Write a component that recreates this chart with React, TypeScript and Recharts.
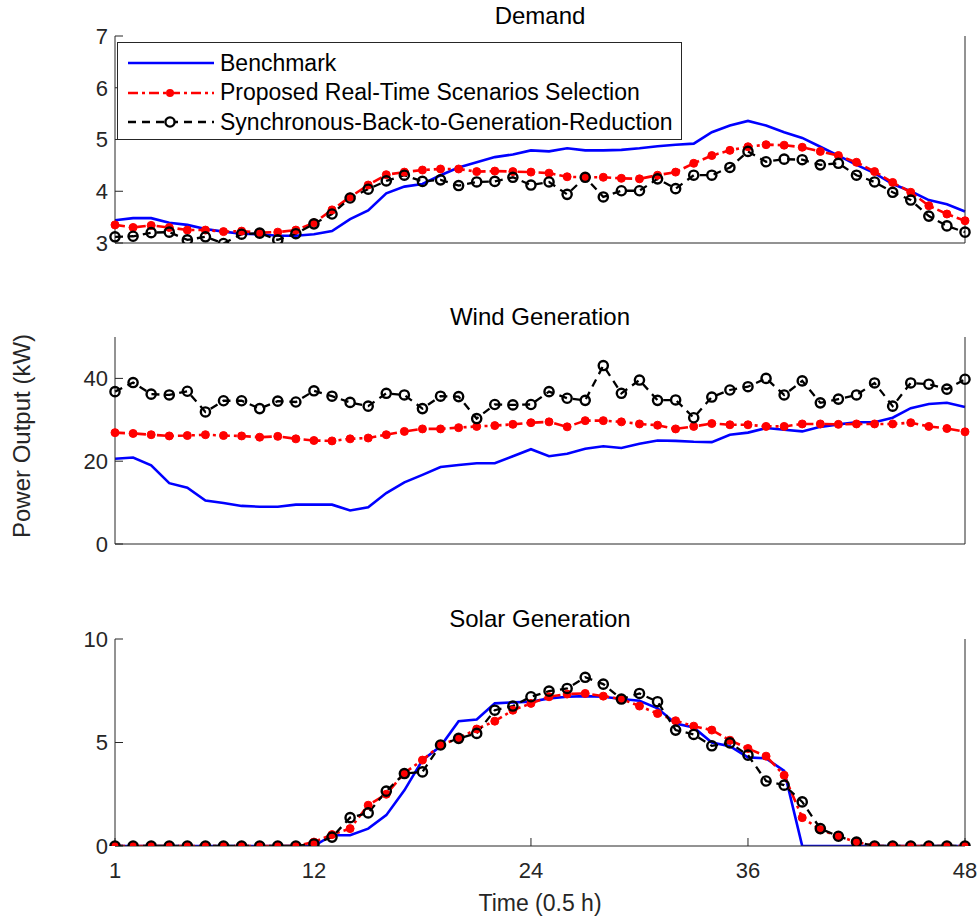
import React from 'react'
import { LineChart, Line, XAxis, YAxis } from 'recharts'

const time = [1, 2, 3, 4, 5, 6, 7, 8, 9, 10, 11, 12, 13, 14, 15, 16, 17, 18, 19, 20, 21, 22, 23, 24, 25, 26, 27, 28, 29, 30, 31, 32, 33, 34, 35, 36, 37, 38, 39, 40, 41, 42, 43, 44, 45, 46, 47, 48]
const xTicks = [1, 12, 24, 36, 48]

const demandBenchmark = [3.44, 3.48, 3.48, 3.39, 3.35, 3.27, 3.22, 3.18, 3.17, 3.14, 3.14, 3.17, 3.23, 3.46, 3.63, 3.96, 4.09, 4.14, 4.31, 4.46, 4.56, 4.66, 4.71, 4.79, 4.77, 4.83, 4.79, 4.79, 4.8, 4.83, 4.87, 4.9, 4.92, 5.14, 5.27, 5.36, 5.27, 5.14, 5.03, 4.86, 4.69, 4.51, 4.35, 4.14, 4.0, 3.83, 3.75, 3.61]
const demandProposed = [3.35, 3.3, 3.34, 3.3, 3.25, 3.25, 3.22, 3.23, 3.2, 3.21, 3.25, 3.39, 3.64, 3.89, 4.12, 4.32, 4.37, 4.41, 4.43, 4.43, 4.38, 4.39, 4.38, 4.37, 4.35, 4.28, 4.27, 4.27, 4.25, 4.24, 4.31, 4.37, 4.54, 4.69, 4.79, 4.86, 4.9, 4.89, 4.85, 4.77, 4.69, 4.56, 4.38, 4.17, 3.98, 3.72, 3.56, 3.43]
const demandSbgr = [3.12, 3.13, 3.2, 3.21, 3.06, 3.12, 2.99, 3.17, 3.19, 3.06, 3.18, 3.37, 3.56, 3.87, 4.04, 4.2, 4.31, 4.19, 4.22, 4.11, 4.18, 4.19, 4.27, 4.12, 4.18, 3.94, 4.27, 3.89, 4.01, 4.01, 4.24, 4.05, 4.31, 4.31, 4.46, 4.77, 4.57, 4.62, 4.61, 4.51, 4.54, 4.31, 4.18, 3.98, 3.83, 3.52, 3.33, 3.21]

const windBenchmark = [20.6, 20.9, 19.0, 14.7, 13.6, 10.5, 9.9, 9.2, 9.0, 9.0, 9.5, 9.5, 9.5, 8.1, 8.9, 12.3, 14.9, 16.7, 18.6, 19.1, 19.5, 19.5, 21.2, 22.9, 21.2, 21.8, 23.0, 23.6, 23.2, 24.2, 25.0, 24.9, 24.7, 24.6, 26.4, 26.9, 28.0, 27.6, 27.2, 28.3, 28.9, 29.4, 29.4, 30.5, 32.8, 33.8, 34.1, 33.1]
const windProposed = [26.9, 26.7, 26.4, 26.1, 26.2, 26.4, 26.2, 26.1, 25.8, 26.0, 25.4, 25.0, 24.9, 25.4, 25.6, 26.4, 27.2, 27.8, 27.8, 28.1, 28.4, 28.6, 28.9, 29.3, 29.5, 28.3, 29.8, 29.8, 29.5, 29.0, 28.7, 27.8, 28.4, 29.1, 28.8, 28.8, 28.4, 28.4, 29.0, 29.0, 28.9, 29.0, 29.0, 29.0, 29.3, 28.4, 27.9, 27.1]
const windSbgr = [36.8, 39.0, 36.2, 36.0, 36.9, 31.9, 34.6, 34.6, 32.7, 34.5, 34.3, 37.0, 35.7, 34.2, 33.3, 36.4, 36.0, 32.7, 35.7, 35.6, 30.3, 33.7, 33.6, 33.7, 36.8, 35.2, 34.7, 43.1, 36.4, 39.6, 34.7, 34.8, 30.5, 35.5, 37.2, 38.0, 40.0, 36.0, 39.4, 34.1, 35.0, 36.0, 38.9, 33.3, 38.9, 38.6, 37.4, 39.8]

const solarBenchmark = [0, 0, 0, 0, 0, 0, 0, 0, 0, 0, 0, 0, 0.52, 0.52, 0.84, 1.49, 2.69, 4.15, 4.82, 6.03, 6.11, 6.89, 6.94, 6.97, 7.13, 7.21, 7.24, 7.21, 7.1, 7.02, 6.65, 5.92, 5.73, 5.0, 4.82, 4.28, 4.23, 3.63, 0, 0, 0, 0, 0, 0, 0, 0, 0, 0]
const solarProposed = [0, 0, 0, 0, 0, 0, 0, 0, 0, 0, 0, 0.19, 0.55, 0.84, 1.97, 2.5, 3.53, 4.15, 4.88, 5.2, 5.65, 6.03, 6.56, 6.89, 7.21, 7.34, 7.37, 7.24, 7.1, 6.76, 6.4, 6.05, 5.79, 5.6, 5.11, 4.71, 4.34, 3.42, 1.37, 0.79, 0.47, 0.19, 0, 0, 0, 0, 0, 0]
const solarSbgr = [0, 0, 0, 0, 0, 0, 0, 0, 0, 0, 0, 0.1, 0.43, 1.37, 1.6, 2.65, 3.5, 3.58, 4.88, 5.2, 5.44, 6.56, 6.76, 7.21, 7.48, 7.61, 8.15, 7.82, 7.1, 7.37, 6.97, 5.6, 5.39, 4.84, 4.98, 4.39, 3.14, 2.94, 2.13, 0.84, 0.47, 0.19, 0, 0, 0, 0, 0, 0]

const FONT = '"Liberation Sans", Arial, Helvetica, sans-serif'
const AXIS = '#262626'
const tickStyle = { fill: AXIS, fontSize: 22, fontFamily: FONT }

const buildRows = (a: number[], b: number[], c: number[]) =>
  time.map((t, i) => ({ t, bench: a[i], prop: b[i], sbgr: c[i] }))

const PLOT_TOP = 40
const PLOT_H = 207

function Panel({ top, title, rows, domain, yTicks, showX }: any) {
  return (
    <div style={{ position: 'absolute', left: 0, top: top - PLOT_TOP, width: 978 }}>
      <div
        style={{
          position: 'absolute', left: 115, width: 850, top: PLOT_TOP - 33, textAlign: 'center',
          fontFamily: FONT, fontSize: 24, color: '#000', lineHeight: '26px'
        }}
      >
        {title}
      </div>
      <LineChart width={978} height={PLOT_TOP + PLOT_H + 40} data={rows} margin={{ top: PLOT_TOP, right: 0, left: 0, bottom: 0 }}>
        <XAxis
          dataKey="t" type="number" domain={[1, 48]} ticks={xTicks} height={40}
          stroke={AXIS} tickSize={-8} tickMargin={24} tick={showX ? tickStyle : false}
          tickLine={{ stroke: AXIS }}
        />
        <XAxis
          xAxisId="top" orientation="top" dataKey="t" type="number" domain={[1, 48]} ticks={xTicks}
          height={0} stroke={AXIS} tickSize={-8} tick={false} tickLine={{ stroke: AXIS }}
        />
        <YAxis
          domain={domain} ticks={yTicks} width={115} allowDataOverflow stroke={AXIS}
          tickSize={-8} tickMargin={15} tick={tickStyle} tickLine={{ stroke: AXIS }}
        />
        <YAxis
          yAxisId="right" orientation="right" domain={domain} ticks={yTicks} width={13} stroke={AXIS}
          tickSize={-8} tick={false} tickLine={{ stroke: AXIS }}
        />
        <Line dataKey="bench" stroke="#0000ff" strokeWidth={2.6} dot={false} isAnimationActive={false} />
        <Line
          dataKey="prop" stroke="#ff0000" strokeWidth={2.6} strokeDasharray="10 4 3 4"
          dot={{ r: 4, fill: '#ff0000', stroke: '#ff0000', strokeWidth: 1, strokeDasharray: '' }}
          isAnimationActive={false}
        />
        <Line
          dataKey="sbgr" stroke="#000000" strokeWidth={2.3} strokeDasharray="8 6"
          dot={{ r: 4.6, fill: 'none', stroke: '#000', strokeWidth: 2.4, strokeDasharray: '' }}
          isAnimationActive={false}
        />
      </LineChart>
    </div>
  )
}

function LegendBox() {
  const items = [
    { label: 'Benchmark', color: '#0000ff', dash: '', marker: 'none' },
    { label: 'Proposed Real-Time Scenarios Selection', color: '#ff0000', dash: '10 4 3 4', marker: 'filled' },
    { label: 'Synchronous-Back-to-Generation-Reduction', color: '#000000', dash: '8 6', marker: 'open' }
  ]
  return (
    <div
      style={{
        position: 'absolute', left: 117, top: 42, width: 563, height: 96, background: '#fff',
        border: `1.5px solid ${AXIS}`
      }}
    >
      {items.map((it, i) => (
        <div key={it.label} style={{ position: 'absolute', left: 0, top: 6 + i * 29.5, height: 28, display: 'flex', alignItems: 'center' }}>
          <svg width={100} height={28} style={{ display: 'block' }}>
            <line x1={10} x2={96} y1={14} y2={14} stroke={it.color} strokeWidth={2.6} strokeDasharray={it.dash} />
            {it.marker === 'filled' && <circle cx={52} cy={14} r={4} fill={it.color} />}
            {it.marker === 'open' && <circle cx={52} cy={14} r={4.6} fill="#fff" stroke={it.color} strokeWidth={2.4} />}
          </svg>
          <span style={{ fontFamily: FONT, fontSize: 23, color: '#000', marginLeft: 2, whiteSpace: 'nowrap' }}>{it.label}</span>
        </div>
      ))}
    </div>
  )
}

export default function App() {
  return (
    <div style={{ position: 'absolute', left: 0, top: 0, width: 978, height: 919, background: '#fff' }}>
      <Panel top={36} title="Demand" rows={buildRows(demandBenchmark, demandProposed, demandSbgr)} domain={[3, 7]} yTicks={[3, 4, 5, 6, 7]} showX={false} />
      <Panel top={337} title="Wind Generation" rows={buildRows(windBenchmark, windProposed, windSbgr)} domain={[0, 50]} yTicks={[0, 20, 40]} showX={false} />
      <Panel top={639} title="Solar Generation" rows={buildRows(solarBenchmark, solarProposed, solarSbgr)} domain={[0, 10]} yTicks={[0, 5, 10]} showX={true} />
      <LegendBox />
      <div
        style={{
          position: 'absolute', left: 22, top: 436, transform: 'translate(-50%, -50%) rotate(-90deg)',
          fontFamily: FONT, fontSize: 24, color: AXIS, whiteSpace: 'nowrap'
        }}
      >
        Power Output (kW)
      </div>
      <div
        style={{
          position: 'absolute', left: 115, width: 850, top: 890, textAlign: 'center',
          fontFamily: FONT, fontSize: 23, color: AXIS
        }}
      >
        Time (0.5 h)
      </div>
    </div>
  )
}
